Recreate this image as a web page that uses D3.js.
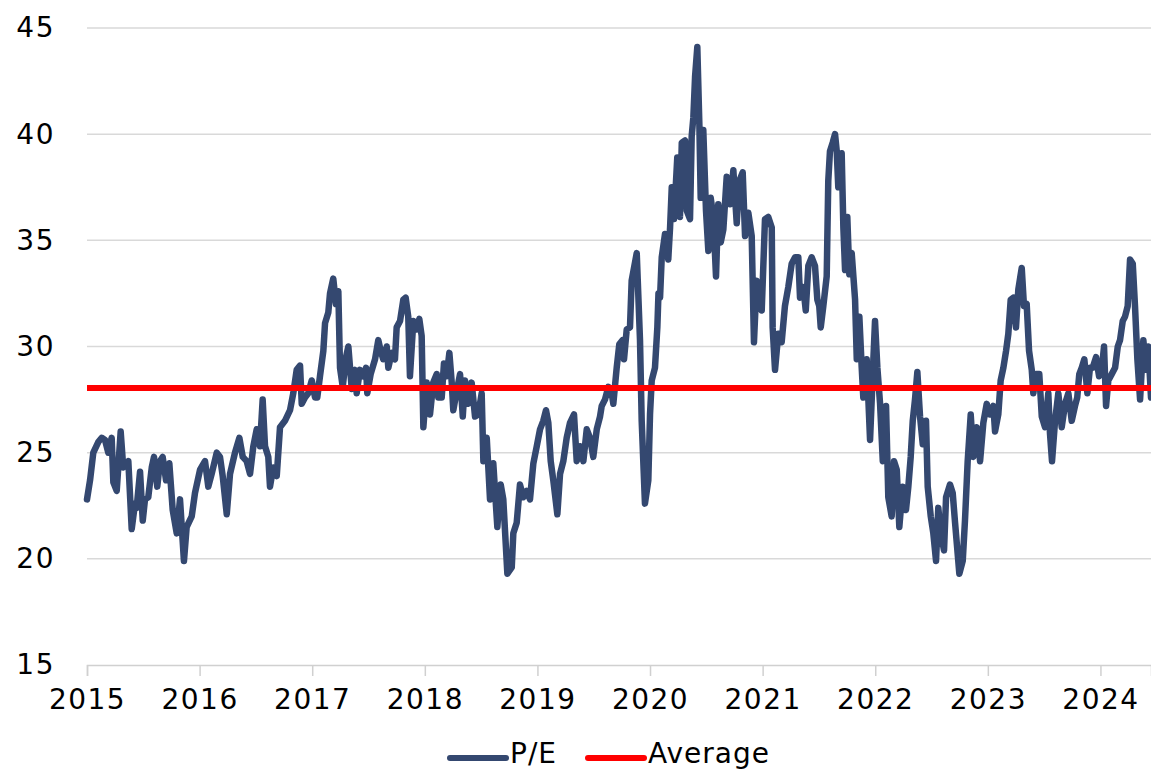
<!DOCTYPE html>
<html>
<head>
<meta charset="utf-8">
<script src="https://cdn.jsdelivr.net/npm/d3@7"></script>
<style>
  html, body { margin: 0; padding: 0; background: #fff; }
  svg { display: block; font-family: "DejaVu Sans", sans-serif; }
</style>
</head>
<body>
<div id="chart"></div>
<script>
// time in decimal years, P/E
const peTime = [
  2015.000, 2015.027, 2015.056, 2015.100, 2015.131, 2015.160, 2015.189, 2015.219, 2015.234, 2015.264,
  2015.299, 2015.322, 2015.367, 2015.397, 2015.426, 2015.441, 2015.471, 2015.495, 2015.515, 2015.544,
  2015.575, 2015.595, 2015.624, 2015.648, 2015.672, 2015.702, 2015.731, 2015.761, 2015.797, 2015.826,
  2015.861, 2015.885, 2015.930, 2015.959, 2016.004, 2016.048, 2016.077, 2016.107, 2016.152, 2016.181,
  2016.205, 2016.241, 2016.270, 2016.314, 2016.353, 2016.383, 2016.418, 2016.448, 2016.477, 2016.507,
  2016.536, 2016.560, 2016.581, 2016.610, 2016.625, 2016.654, 2016.685, 2016.714, 2016.758, 2016.803,
  2016.832, 2016.862, 2016.892, 2016.907, 2016.936, 2016.965, 2016.996, 2017.025, 2017.045, 2017.069,
  2017.099, 2017.114, 2017.143, 2017.158, 2017.187, 2017.211, 2017.232, 2017.247, 2017.271, 2017.300,
  2017.321, 2017.351, 2017.380, 2017.395, 2017.424, 2017.454, 2017.478, 2017.489, 2017.519, 2017.558,
  2017.587, 2017.608, 2017.631, 2017.662, 2017.676, 2017.706, 2017.735, 2017.750, 2017.780, 2017.809,
  2017.830, 2017.853, 2017.868, 2017.898, 2017.928, 2017.951, 2017.972, 2017.987, 2018.017, 2018.046,
  2018.075, 2018.106, 2018.120, 2018.150, 2018.170, 2018.194, 2018.218, 2018.239, 2018.253, 2018.283,
  2018.313, 2018.337, 2018.357, 2018.386, 2018.416, 2018.446, 2018.475, 2018.505, 2018.520, 2018.550,
  2018.579, 2018.608, 2018.644, 2018.674, 2018.697, 2018.733, 2018.772, 2018.786, 2018.816, 2018.845,
  2018.875, 2018.905, 2018.934, 2018.964, 2018.994, 2019.023, 2019.052, 2019.076, 2019.097, 2019.118,
  2019.141, 2019.177, 2019.201, 2019.230, 2019.260, 2019.289, 2019.325, 2019.349, 2019.378, 2019.408,
  2019.438, 2019.467, 2019.496, 2019.527, 2019.556, 2019.571, 2019.600, 2019.630, 2019.660, 2019.674,
  2019.704, 2019.727, 2019.757, 2019.769, 2019.793, 2019.822, 2019.837, 2019.882, 2019.911, 2019.926,
  2019.955, 2019.985, 2020.000, 2020.015, 2020.044, 2020.065, 2020.075, 2020.089, 2020.104, 2020.133,
  2020.162, 2020.178, 2020.193, 2020.213, 2020.242, 2020.266, 2020.282, 2020.311, 2020.326, 2020.355,
  2020.370, 2020.385, 2020.400, 2020.420, 2020.438, 2020.450, 2020.473, 2020.497, 2020.518, 2020.539,
  2020.562, 2020.586, 2020.606, 2020.628, 2020.651, 2020.681, 2020.710, 2020.740, 2020.770, 2020.793,
  2020.823, 2020.844, 2020.873, 2020.903, 2020.923, 2020.947, 2020.977, 2020.992, 2021.021, 2021.050,
  2021.081, 2021.089, 2021.110, 2021.139, 2021.169, 2021.198, 2021.228, 2021.258, 2021.288, 2021.317,
  2021.332, 2021.361, 2021.383, 2021.406, 2021.436, 2021.465, 2021.486, 2021.503, 2021.516, 2021.539,
  2021.569, 2021.583, 2021.598, 2021.622, 2021.643, 2021.658, 2021.672, 2021.687, 2021.702, 2021.717,
  2021.732, 2021.752, 2021.770, 2021.791, 2021.821, 2021.836, 2021.859, 2021.880, 2021.894, 2021.924,
  2021.954, 2021.978, 2021.998, 2022.019, 2022.043, 2022.067, 2022.096, 2022.116, 2022.146, 2022.167,
  2022.191, 2022.214, 2022.244, 2022.273, 2022.294, 2022.315, 2022.333, 2022.353, 2022.374, 2022.398,
  2022.422, 2022.451, 2022.466, 2022.493, 2022.516, 2022.540, 2022.560, 2022.582, 2022.611, 2022.629,
  2022.664, 2022.688, 2022.709, 2022.747, 2022.777, 2022.797, 2022.821, 2022.848, 2022.871, 2022.901,
  2022.931, 2022.960, 2022.990, 2023.019, 2023.049, 2023.064, 2023.093, 2023.114, 2023.138, 2023.162,
  2023.182, 2023.203, 2023.226, 2023.250, 2023.271, 2023.301, 2023.321, 2023.345, 2023.366, 2023.390,
  2023.404, 2023.428, 2023.457, 2023.479, 2023.508, 2023.537, 2023.552, 2023.570, 2023.597, 2023.626,
  2023.656, 2023.686, 2023.715, 2023.745, 2023.774, 2023.794, 2023.812, 2023.834, 2023.857, 2023.884,
  2023.907, 2023.931, 2023.961, 2023.988, 2024.011, 2024.032, 2024.050, 2024.070, 2024.100, 2024.130,
  2024.154, 2024.174, 2024.198, 2024.218, 2024.242, 2024.263, 2024.287, 2024.307, 2024.328, 2024.352,
  2024.381, 2024.405, 2024.425, 2024.449
];

const peValue = [
  22.8, 23.7, 25.0, 25.5, 25.7, 25.6, 25.0, 25.7, 23.6, 23.2,
  26.0, 24.3, 24.6, 21.4, 22.6, 22.4, 24.1, 21.8, 22.8, 22.9,
  24.3, 24.8, 23.4, 24.6, 24.8, 23.7, 24.5, 22.3, 21.2, 22.8,
  19.9, 21.5, 22.0, 23.1, 24.2, 24.6, 23.4, 24.0, 25.0, 24.8,
  23.9, 22.1, 24.0, 25.0, 25.7, 24.8, 24.6, 24.0, 25.3, 26.1,
  25.3, 27.5, 25.3, 24.8, 23.4, 24.3, 23.9, 26.2, 26.5, 27.0,
  27.8, 28.9, 29.1, 27.3, 27.6, 27.8, 28.4, 27.6, 27.6, 28.6,
  29.8, 31.1, 31.6, 32.5, 33.2, 32.0, 32.6, 29.0, 28.1, 29.5,
  30.0, 28.0, 28.9, 27.8, 28.9, 28.6, 29.0, 27.8, 28.7, 29.4,
  30.3, 29.8, 29.4, 30.0, 29.0, 29.7, 29.4, 30.9, 31.2, 32.2,
  32.3, 31.4, 28.6, 31.2, 30.8, 31.3, 30.5, 26.2, 28.3, 26.8,
  28.3, 28.7, 27.6, 27.6, 29.2, 28.6, 29.7, 28.3, 27.0, 27.9,
  28.7, 26.7, 28.4, 27.3, 28.3, 26.7, 26.8, 27.8, 24.6, 25.7,
  22.8, 24.5, 21.5, 23.5, 22.8, 19.3, 19.6, 21.2, 21.7, 23.5,
  22.9, 23.2, 22.8, 24.5, 25.3, 26.1, 26.5, 27.0, 26.4, 24.6,
  23.7, 22.1, 24.0, 24.6, 25.7, 26.4, 26.8, 24.6, 25.3, 24.6,
  26.1, 25.7, 24.8, 26.1, 26.7, 27.2, 27.5, 28.1, 27.8, 27.3,
  29.0, 30.1, 30.3, 29.4, 30.8, 30.9, 33.1, 34.4, 30.3, 26.5,
  22.6, 23.7, 26.8, 28.4, 29.0, 30.9, 32.5, 32.3, 34.2, 35.3,
  34.1, 35.6, 37.5, 36.0, 38.9, 36.1, 39.6, 39.7, 36.4, 36.0,
  39.9, 40.8, 42.7, 44.1, 40.5, 37.0, 40.2, 36.4, 34.5, 37.0,
  36.1, 33.3, 36.7, 34.9, 35.5, 38.0, 36.7, 38.3, 35.8, 37.8,
  38.2, 35.2, 36.3, 35.2, 30.2, 33.1, 32.5, 31.7, 36.0, 36.1,
  35.6, 30.9, 28.9, 30.6, 30.2, 31.9, 32.8, 33.9, 34.2, 34.2,
  32.3, 32.8, 31.7, 33.8, 34.2, 33.8, 32.2, 31.9, 30.9, 31.9,
  33.3, 37.8, 39.2, 39.6, 40.0, 39.2, 37.5, 38.5, 39.1, 35.6,
  33.6, 36.1, 33.4, 34.4, 32.2, 29.4, 31.4, 29.0, 27.6, 29.4,
  25.6, 28.7, 31.2, 29.0, 27.3, 24.6, 27.2, 22.9, 22.0, 24.6,
  24.2, 21.5, 23.4, 22.3, 23.4, 24.8, 26.5, 27.5, 28.8, 26.7,
  25.4, 26.5, 23.4, 22.0, 21.2, 19.9, 22.4, 21.2, 20.4, 22.9,
  23.5, 23.1, 21.7, 19.3, 19.9, 21.8, 24.6, 26.8, 24.8, 26.2,
  24.6, 26.4, 27.3, 26.8, 27.2, 26.0, 26.8, 28.4, 29.0, 29.8,
  30.6, 32.2, 32.3, 30.9, 32.7, 33.7, 31.9, 32.0, 29.8, 28.9,
  27.8, 28.7, 28.7, 26.7, 26.2, 27.8, 25.9, 24.6, 26.5, 27.8,
  26.2, 27.3, 27.8, 26.5, 27.2, 27.6, 28.7, 29.0, 29.4, 27.8,
  29.0, 29.0, 29.5, 28.6, 28.9, 30.0, 27.2, 28.4, 28.7, 29.0,
  30.0, 30.3, 31.2, 31.4, 31.9, 34.1, 33.9, 31.9, 29.4, 27.5,
  30.3, 28.9, 30.0, 27.6
];

const averagePE = 28.05;

const yTicks = [15, 20, 25, 30, 35, 40, 45];
const yearTicks = [2015, 2016, 2017, 2018, 2019, 2020, 2021, 2022, 2023, 2024];
const legendItems = [
  { label: 'P/E', color: '#344870' },
  { label: 'Average', color: '#ff0000' },
];

const width = 1151;
const height = 769;
const margin = { top: 28, right: 0, bottom: 104, left: 87 };
const plotW = width - margin.left - margin.right;
const plotH = height - margin.top - margin.bottom;

const svg = d3.select('#chart')
  .append('svg')
  .attr('width', width)
  .attr('height', height);

const g = svg.append('g')
  .attr('transform', `translate(${margin.left},${margin.top})`);

const x = d3.scaleLinear().domain([2015, 2024.449]).range([0, plotW]);
const y = d3.scaleLinear().domain([15, 45]).range([plotH, 0]);

// horizontal gridlines
g.append('g')
  .selectAll('line')
  .data(yTicks.filter((d) => d > 15))
  .enter()
  .append('line')
  .attr('x1', 0)
  .attr('x2', plotW)
  .attr('y1', (d) => y(d))
  .attr('y2', (d) => y(d))
  .attr('stroke', '#d9d9d9')
  .attr('stroke-width', 1.5);

// y axis labels
const yAxis = g.append('g')
  .call(d3.axisLeft(y).tickValues(yTicks).tickSize(0).tickPadding(32));
yAxis.select('.domain').remove();
yAxis.selectAll('text')
  .attr('font-family', '"DejaVu Sans", sans-serif')
  .attr('font-size', 28)
  .attr('letter-spacing', 1.5)
  .attr('fill', '#000');

// x axis
const xAxis = g.append('g')
  .attr('transform', `translate(0,${plotH})`)
  .call(d3.axisBottom(x).tickValues(yearTicks).tickFormat(d3.format('d')).tickSize(11).tickPadding(13));
xAxis.select('.domain').attr('stroke', '#d0d0d0').attr('stroke-width', 1.5);
xAxis.selectAll('.tick line').attr('stroke', '#d0d0d0').attr('stroke-width', 1.5);
xAxis.selectAll('text')
  .attr('font-family', '"DejaVu Sans", sans-serif')
  .attr('font-size', 28)
  .attr('letter-spacing', 1.5)
  .attr('fill', '#000');

const peData = peTime.map((t, i) => ({ t, v: peValue[i] }));

const line = d3.line()
  .x((d) => x(d.t))
  .y((d) => y(d.v));

g.append('path')
  .datum(peData)
  .attr('d', line)
  .attr('fill', 'none')
  .attr('stroke', legendItems[0].color)
  .attr('stroke-width', 6.5)
  .attr('stroke-linejoin', 'round')
  .attr('stroke-linecap', 'round');

// average line
g.append('line')
  .attr('x1', x(2015))
  .attr('x2', x(2024.449))
  .attr('y1', y(averagePE))
  .attr('y2', y(averagePE))
  .attr('stroke', legendItems[1].color)
  .attr('stroke-width', 6);

// legend
const legendX = [450, 588];
const legend = svg.append('g').attr('transform', 'translate(0,758)');
legendItems.forEach((item, i) => {
  legend.append('line')
    .attr('x1', legendX[i])
    .attr('x2', legendX[i] + 56)
    .attr('y1', 0)
    .attr('y2', 0)
    .attr('stroke', item.color)
    .attr('stroke-width', 6)
    .attr('stroke-linecap', 'round');
  legend.append('text')
    .attr('x', legendX[i] + 60)
    .attr('y', 5)
    .attr('font-size', 28)
    .attr('letter-spacing', 1)
    .attr('fill', '#000')
    .text(item.label);
});
</script>
</body>
</html>
